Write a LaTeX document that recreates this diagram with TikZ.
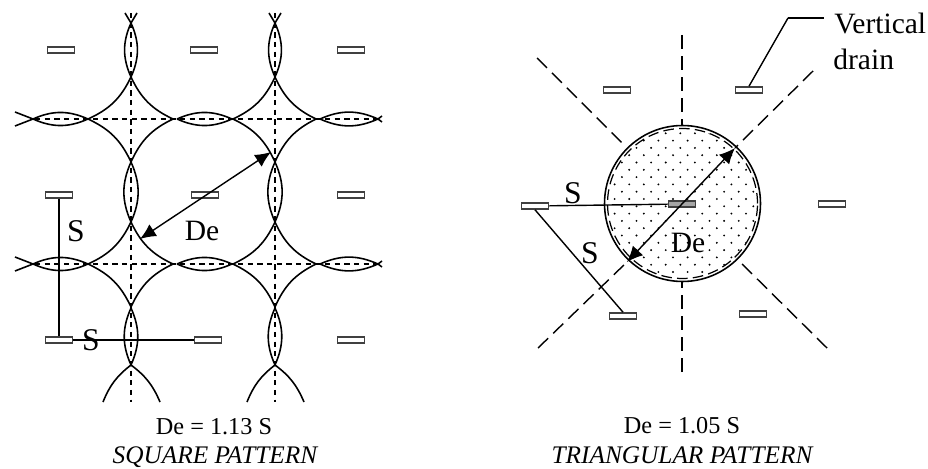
\documentclass[tikz,border=0pt]{standalone}
\usepackage{fontspec}
\setmainfont{Liberation Serif}
\usetikzlibrary{arrows.meta}

\begin{document}
\begin{tikzpicture}[x=0.02cm, y=-0.02cm,
    drain/.style={rectangle, draw=black!75, fill=white, line width=0.9pt, minimum width=0.54cm, minimum height=0.12cm, inner sep=0pt},
    txt/.style={inner sep=0pt, font=\fontsize{13.8}{15}\selectfont},
    bigtxt/.style={inner sep=0pt, font=\fontsize{16.8}{18}\selectfont},
    patname/.style={inner sep=0pt, font=\fontsize{14.4}{16}\selectfont\itshape},
    sym/.style={inner sep=0pt, font=\fontsize{18}{20}\selectfont},
    gridline/.style={line width=0.7pt, dash pattern=on 3pt off 2.5pt},
    ray/.style={line width=0.8pt, dash pattern=on 8pt off 4pt},
    bound/.style={line width=0.9pt},
    link/.style={line width=0.8pt},
    dia/.style={line width=0.8pt, {Latex[length=9pt,width=8pt]}-{Latex[length=9pt,width=8pt]}}]

  \useasboundingbox (0,0) rectangle (928,469);

  % Dashed grid
  \draw[gridline] (131,13) -- (131,402);
  \draw[gridline] (275,13) -- (275,402);
  \draw[gridline] (35,119) -- (380,119);
  \draw[gridline] (35,264) -- (380,264);

  % Square pattern: four-sided cells between the drains
  \foreach \cx/\w/\e in {131/88/173, 275/233/316} {
    \foreach \cy/\n/\s in {119/77/162, 264/222/307} {
      \draw[bound] (\cx,\n) to[bend left=20] (\w,\cy) to[bend left=20] (\cx,\s)
        to[bend left=20] (\e,\cy) to[bend left=20] (\cx,\n);
    }
  }

  % Overlaps
  \foreach \cx in {131,275} {
    \foreach \a/\b in {23/77, 162/222, 308/365} {
      \draw[bound] (\cx,\a) to[bend left=24] (\cx,\b) to[bend left=24] (\cx,\a);
    }
  }
  \foreach \cy in {119,264} {
    \foreach \a/\b in {33/88, 177/232, 320/378} {
      \draw[bound] (\a,\cy) to[bend left=24] (\b,\cy) to[bend left=24] (\a,\cy);
    }
    % ends on the left and right
    \draw[bound] (15,\cy-7) -- (33,\cy) -- (15,\cy+7);
    \draw[bound] (382,\cy-3) -- (378,\cy) -- (382,\cy+3);
  }

  % Ends on the top and bottom
  \foreach \cx in {131,275} {
    \draw[bound] (\cx-6,13) -- (\cx,23) -- (\cx+6,13);
    \draw[bound] (\cx-28,402) to[bend left=15] (\cx,365) to[bend left=15] (\cx+29,402);
  }

  % Square pattern drains
  \node[drain] (a1) at (61,50)   {};
  \node[drain] (a2) at (204,50)  {};
  \node[drain] (a3) at (351,50)  {};
  \node[drain] (b1) at (59,195)  {};
  \node[drain] (b2) at (205,195) {};
  \node[drain] (b3) at (351,195) {};
  \node[drain] (c1) at (59,340)  {};
  \node[drain] (c2) at (208,340) {};
  \node[drain] (c3) at (351,340) {};

  % Spacing and diameter
  \draw[link] (b1) -- (c1);
  \draw[link] (c1) -- (c2);
  \coordinate (qa) at (271,152);
  \coordinate (qb) at (140,239);
  \draw[dia] (qa) -- (qb);

  \node[sym] (s1) at (76,231) {S};
  \node[sym] (s2) at (91,340) {S};
  \node[bigtxt] (de1) at (202,231) {De};
  \node[txt] (eq1) at (214,427) {De = 1.13 S};
  \node[patname] (name1) at (215,457) {SQUARE PATTERN};

  % Triangular pattern: stippled circle
  \begin{scope}
    \clip (682.5,203.5) circle (1.5cm);
    \foreach \row in {0,...,22} {
      \foreach \col in {0,...,11} {
        \pgfmathsetmacro{\dotx}{600+\col*14.6+7.3*mod(\row,2)}
        \pgfmathsetmacro{\doty}{126+\row*7.3}
        \fill (\dotx,\doty) circle (0.6pt);
      }
    }
  \end{scope}
  \node[circle, draw, line width=0.9pt, minimum size=3.12cm, inner sep=0pt] (round) at (682.5,203.5) {};
  \draw[line width=0.7pt, dash pattern=on 6pt off 3pt] (682.5,203.5) circle (1.5cm);

  % Dashed rays
  \coordinate (r1) at (682,35);
  \coordinate (r2) at (682,372);
  \coordinate (r3) at (537,58);
  \coordinate (r4) at (813,71);
  \coordinate (r5) at (538,348);
  \coordinate (r6) at (827,348);
  \coordinate (k1) at (682,125);
  \coordinate (k2) at (682,282);
  \coordinate (k3) at (625,146);
  \coordinate (k4) at (735,148);
  \coordinate (k5) at (627,262);
  \coordinate (k6) at (737,259);
  \foreach \a/\b in {r1/k1, r2/k2, r3/k3, r4/k4, r5/k5, r6/k6} {
    \draw[ray] (\a) -- (\b);
  }

  % Triangular pattern drains
  \node[drain] (t1) at (617,90)  {};
  \node[drain] (t2) at (749,90)  {};
  \node[drain] (t3) at (535,206) {};
  \node[drain, fill=black!35] (t4) at (682,204) {};
  \node[drain] (t5) at (832,204) {};
  \node[drain] (t6) at (623,316) {};
  \node[drain] (t7) at (753,314) {};

  \draw[link] (t3) -- (t4);
  \draw[link] (t3.south) -- (t6.north);
  \draw[dia] (k4) -- (k5);

  % Leader to the drain
  \coordinate (bend) at (788,18);
  \coordinate (lead) at (824,18);
  \draw[link] (t2.north) -- (bend);
  \draw[line width=1.6pt] (bend) -- (lead);

  \node[sym] (s3) at (573,193) {S};
  \node[sym] (s4) at (590,253) {S};
  \node[bigtxt] (de2) at (688,243) {De};
  \node[bigtxt, anchor=west] (vert) at (834,23) {Vertical};
  \node[bigtxt, anchor=west] (dr) at (833,59) {drain};
  \node[txt] (eq2) at (682,426) {De = 1.05 S};
  \node[patname] (name2) at (682,455) {TRIANGULAR PATTERN};

\end{tikzpicture}
\end{document}
